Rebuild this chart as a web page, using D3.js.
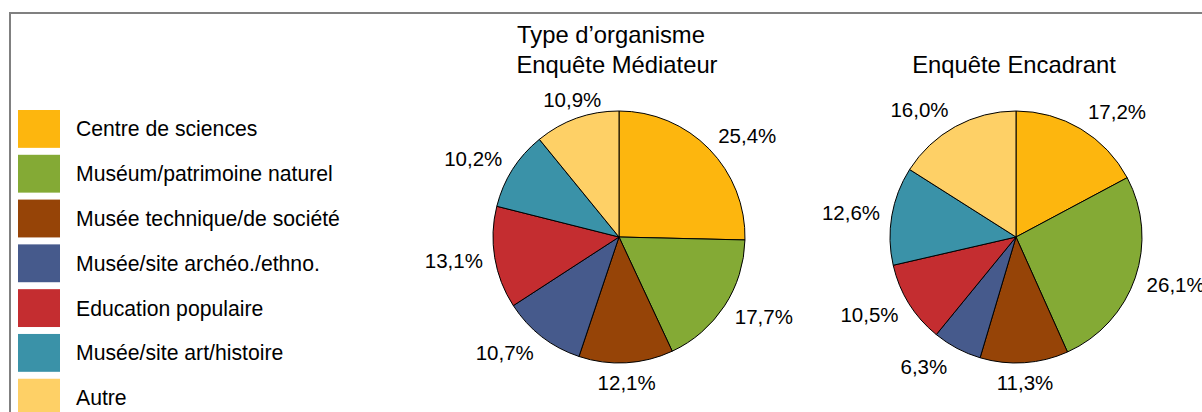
<!DOCTYPE html>
<html>
<head>
<meta charset="utf-8">
<script src="https://cdn.jsdelivr.net/npm/d3@7"></script>
<style>
  html, body { margin: 0; padding: 0; background: #fff; }
  svg text { font-family: "Liberation Sans", Arial, sans-serif; fill: #000; }
</style>
</head>
<body>
<svg id="chart" width="1202" height="412"></svg>
<script>
const categories = [
  "Centre de sciences",
  "Muséum/patrimoine naturel",
  "Musée technique/de société",
  "Musée/site archéo./ethno.",
  "Education populaire",
  "Musée/site art/histoire",
  "Autre"
];
const colors = ["#FDB60E", "#84AA35", "#964407", "#465A8C", "#C42D30", "#3A92A8", "#FED066"];

const mediateurValues = [25.4, 17.7, 12.1, 10.7, 13.1, 10.2, 10.9];
const encadrantValues = [17.2, 26.1, 11.3, 6.3, 10.5, 12.6, 16.0];

const chartTitle = "Type d’organisme";
const pieTitles = ["Enquête Médiateur", "Enquête Encadrant"];

const svg = d3.select("#chart");

// outer frame (cropped on right/bottom like the source)
svg.append("rect")
  .attr("x", 10).attr("y", 13)
  .attr("width", 1400).attr("height", 600)
  .attr("fill", "none")
  .attr("stroke", "#808080")
  .attr("stroke-width", 2);

// legend
const legendY = d3.scaleBand()
  .domain(categories)
  .range([110, 110 + 43.8 * categories.length])
  .paddingInner(0.155)
  .paddingOuter(0);

const legend = svg.append("g").selectAll("g")
  .data(categories)
  .join("g");

legend.append("rect")
  .attr("x", 18)
  .attr("y", d => legendY(d))
  .attr("width", 42)
  .attr("height", legendY.bandwidth())
  .attr("fill", (d, i) => colors[i]);

legend.append("text")
  .attr("x", 76)
  .attr("y", d => legendY(d) + legendY.bandwidth() / 2 + 7.5)
  .attr("font-size", 21.2)
  .text(d => d);

svg.append("text")
  .attr("x", 611).attr("y", 43)
  .attr("text-anchor", "middle")
  .attr("font-size", 23.8)
  .text(chartTitle);

const radius = 126;
const pie = d3.pie().sort(null).value(d => d);
const arc = d3.arc().innerRadius(0).outerRadius(radius);
const fmt = v => d3.format(".1f")(v).replace(".", ",") + "%";

function drawPie(values, cx, title) {
  const g = svg.append("g").attr("transform", `translate(${cx},237)`);

  svg.append("text")
    .attr("x", cx - 2).attr("y", 73)
    .attr("text-anchor", "middle")
    .attr("font-size", 23.8)
    .text(title);

  const arcs = pie(values);

  g.selectAll("path")
    .data(arcs)
    .join("path")
    .attr("d", arc)
    .attr("fill", (d, i) => colors[i])
    .attr("stroke", "#000")
    .attr("stroke-width", 1);

  // labels pushed outside the slice, box offset outward
  const labelW = 62, labelH = 20, gap = 10;
  g.selectAll("text")
    .data(arcs)
    .join("text")
    .attr("font-size", 20.5)
    .attr("text-anchor", "middle")
    .attr("x", d => {
      const a = (d.startAngle + d.endAngle) / 2;
      const ux = Math.sin(a);
      const sx = Math.sign(ux) * Math.max(0, Math.min(1, (Math.abs(ux) - 0.33) / 0.15));
      return ux * (radius + gap) + sx * labelW / 2;
    })
    .attr("y", d => {
      const a = (d.startAngle + d.endAngle) / 2;
      const uy = -Math.cos(a);
      return uy * (radius + gap) + uy * labelH / 2 + 7.5;
    })
    .text(d => fmt(d.data));
}

drawPie(mediateurValues, 619, pieTitles[0]);
drawPie(encadrantValues, 1016, pieTitles[1]);
</script>
</body>
</html>
